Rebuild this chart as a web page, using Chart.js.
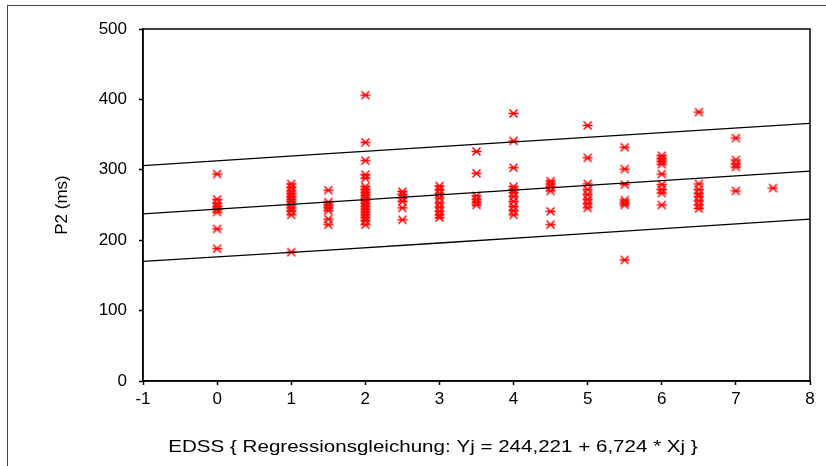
<!DOCTYPE html>
<html>
<head>
<meta charset="utf-8">
<script src="https://cdn.jsdelivr.net/npm/chart.js@4"></script>
<style>
    html, body { margin: 0; padding: 0; background: #fff; overflow: hidden; }
    #wrap { position: relative; width: 826px; height: 466px; }
    #frame {
        position: absolute; left: 7px; top: 5px; width: 900px; height: 600px;
        border-left: 1px solid #444; border-top: 1px solid #444;
    }
    canvas { position: absolute; left: 0; top: 0; }
</style>
</head>
<body>
<div id="wrap">
    <div id="frame"></div>
    <canvas id="p2-chart" width="826" height="466"></canvas>
</div>
<script>
// EDSS-Stufen und gemessene P2-Latenzen (ms)
const edss = [0, 1, 1.5, 2, 2.5, 3, 3.5, 4, 4.5, 5, 5.5, 6, 6.5, 7, 7.5];
const p2 = [
    [294, 258, 252, 248, 244, 240, 216, 188],
    [280, 275, 270, 266, 262, 258, 255, 250, 246, 242, 236, 183],
    [271, 254, 250, 246, 242, 230, 222],
    [406, 339, 313, 293, 288, 276, 272, 268, 264, 260, 256, 252, 248, 244, 240, 236, 232, 228, 222],
    [269, 265, 260, 255, 246, 229],
    [277, 272, 266, 260, 253, 247, 241, 236, 232],
    [326, 295, 263, 258, 254, 250],
    [380, 341, 303, 276, 272, 268, 262, 255, 248, 242, 236],
    [284, 280, 276, 270, 241, 222],
    [363, 317, 280, 272, 265, 258, 252, 246],
    [332, 301, 279, 257, 253, 250, 172],
    [320, 316, 312, 308, 294, 279, 272, 267, 250],
    [382, 280, 272, 266, 262, 256, 250, 245],
    [345, 314, 308, 304, 270],
    [274]
];

// Regressionsgerade
const intercept = 244.221;
const slope = 6.724;
const lineX = [-1, 8];

// obere / untere Grenze
const bandX = [-1, 1.5, 3, 4.5, 8];
const upperBand = [306, 323, 333, 343, 366];
const lowerBand = [170, 186, 196, 206, 230];

const xTicks = [-1, 0, 1, 2, 3, 4, 5, 6, 7, 8];
const yTicks = [0, 100, 200, 300, 400, 500];

const xTitle = 'EDSS { Regressionsgleichung: Yj = 244,221 + 6,724 * Xj }';
const yTitle = 'P2 (ms)';

// Sternchen als Punktsymbol
function makeStar() {
    const c = document.createElement('canvas');
    c.width = 11;
    c.height = 11;
    const g = c.getContext('2d');
    g.strokeStyle = '#ff0000';
    g.lineWidth = 1.5;
    g.beginPath();
    g.moveTo(1.5, 1.5); g.lineTo(9.5, 9.5);
    g.moveTo(9.5, 1.5); g.lineTo(1.5, 9.5);
    g.moveTo(0.5, 5.5); g.lineTo(10.5, 5.5);
    g.stroke();
    return c;
}

const points = [];
edss.forEach((x, i) => {
    p2[i].forEach(y => points.push({ x: x, y: y }));
});

const regLine = lineX.map(x => ({ x: x, y: intercept + slope * x }));
const upper = bandX.map((x, i) => ({ x: x, y: upperBand[i] }));
const lower = bandX.map((x, i) => ({ x: x, y: lowerBand[i] }));

const FONT = { family: 'Liberation Sans, Arial, sans-serif', size: 17 };

// Rahmen um die Zeichenfläche + Achsentitel unten (etwas breiter gezogen)
const boxPlugin = {
    id: 'box',
    afterDraw(chart) {
        const { ctx, chartArea } = chart;
        ctx.save();
        ctx.strokeStyle = '#000';
        ctx.lineWidth = 1.5;
        ctx.strokeRect(chartArea.left, chartArea.top, chartArea.right - chartArea.left, chartArea.bottom - chartArea.top);
        ctx.fillStyle = '#000';
        ctx.font = FONT.size + 'px ' + FONT.family;
        ctx.textAlign = 'center';
        ctx.textBaseline = 'middle';
        ctx.translate(433, 447);
        ctx.scale(1.21, 1);
        ctx.fillText(xTitle, 0, 0);
        ctx.restore();
    }
};

const line = (data) => ({
    type: 'line',
    data: data,
    borderColor: '#000',
    borderWidth: 1.3,
    pointRadius: 0,
    fill: false,
    tension: 0
});

new Chart(document.getElementById('p2-chart').getContext('2d'), {
    type: 'scatter',
    data: {
        datasets: [
            line(upper),
            line(regLine),
            line(lower),
            {
                data: points,
                pointStyle: makeStar(),
                pointRadius: 5,
                borderColor: '#ff0000',
                backgroundColor: '#ff0000'
            }
        ]
    },
    options: {
        responsive: false,
        animation: false,
        events: [],
        layout: { padding: { top: 29, right: 16, left: 0, bottom: 0 } },
        plugins: {
            legend: { display: false },
            tooltip: { enabled: false }
        },
        scales: {
            x: {
                type: 'linear',
                min: -1,
                max: 8,
                afterFit: (s) => { s.height = 85; },
                afterBuildTicks: (s) => { s.ticks = xTicks.map(v => ({ value: v })); },
                grid: { drawOnChartArea: false, color: '#000', tickLength: 4, tickWidth: 1.5 },
                border: { color: '#000', width: 1.5 },
                ticks: { color: '#000', font: FONT, padding: 4, maxRotation: 0 }
            },
            y: {
                min: 0,
                max: 500,
                afterFit: (s) => { s.width = 143; },
                afterBuildTicks: (s) => { s.ticks = yTicks.map(v => ({ value: v })); },
                grid: { drawOnChartArea: false, color: '#000', tickLength: 4, tickWidth: 1.5 },
                border: { color: '#000', width: 1.5 },
                ticks: { color: '#000', font: FONT, padding: 12 },
                title: {
                    display: true,
                    text: yTitle,
                    color: '#000',
                    font: FONT,
                    padding: { top: 52, bottom: 0 }
                }
            }
        }
    },
    plugins: [boxPlugin]
});
</script>
</body>
</html>
